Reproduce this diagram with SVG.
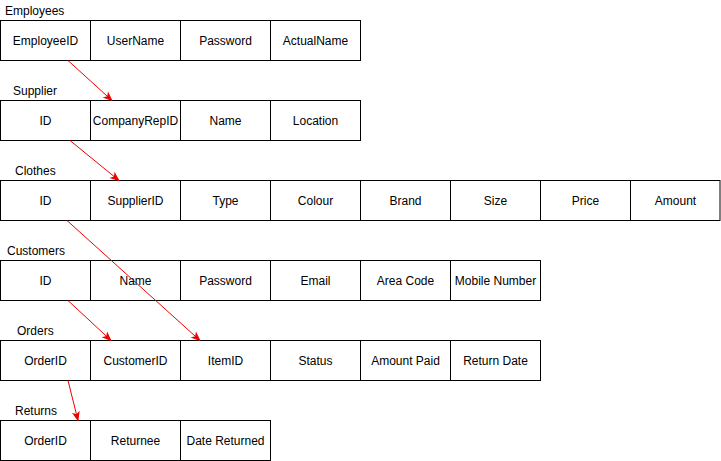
<svg xmlns="http://www.w3.org/2000/svg" width="721" height="461" viewBox="0 0 721 461">
<style>
.c{fill:#fff;stroke:#000;stroke-width:1}
.t{font-family:"Liberation Sans",Arial,sans-serif;font-size:12px;fill:#000;text-anchor:middle;dominant-baseline:central}
.l{font-family:"Liberation Sans",Arial,sans-serif;font-size:12px;fill:#000}
.a{stroke:#e00;stroke-width:1;fill:none;marker-end:url(#ah)}
</style>
<defs>
<marker id="ah" viewBox="0 0 10 10" refX="9" refY="5" markerWidth="10" markerHeight="10" markerUnits="userSpaceOnUse" orient="auto">
<path d="M0,1 L10,5 L0,9 L2.5,5 Z" fill="#e00"/>
</marker>
</defs>
<rect width="721" height="461" fill="#fff"/>
<g id="employees">
<text class="l" x="5" y="15">Employees</text>
<rect class="c" x="0.5" y="20.5" width="90" height="40"/><text class="t" x="45.5" y="40.5">EmployeeID</text>
<rect class="c" x="90.5" y="20.5" width="90" height="40"/><text class="t" x="135.5" y="40.5">UserName</text>
<rect class="c" x="180.5" y="20.5" width="90" height="40"/><text class="t" x="225.5" y="40.5">Password</text>
<rect class="c" x="270.5" y="20.5" width="90" height="40"/><text class="t" x="315.5" y="40.5">ActualName</text>
</g>
<g id="supplier">
<text class="l" x="13" y="95">Supplier</text>
<rect class="c" x="0.5" y="100.5" width="90" height="40"/><text class="t" x="45.5" y="120.5">ID</text>
<rect class="c" x="90.5" y="100.5" width="90" height="40"/><text class="t" x="135.5" y="120.5">CompanyRepID</text>
<rect class="c" x="180.5" y="100.5" width="90" height="40"/><text class="t" x="225.5" y="120.5">Name</text>
<rect class="c" x="270.5" y="100.5" width="90" height="40"/><text class="t" x="315.5" y="120.5">Location</text>
</g>
<g id="clothes">
<text class="l" x="15" y="175">Clothes</text>
<rect class="c" x="0.5" y="180.5" width="90" height="40"/><text class="t" x="45.5" y="200.5">ID</text>
<rect class="c" x="90.5" y="180.5" width="90" height="40"/><text class="t" x="135.5" y="200.5">SupplierID</text>
<rect class="c" x="180.5" y="180.5" width="90" height="40"/><text class="t" x="225.5" y="200.5">Type</text>
<rect class="c" x="270.5" y="180.5" width="90" height="40"/><text class="t" x="315.5" y="200.5">Colour</text>
<rect class="c" x="360.5" y="180.5" width="90" height="40"/><text class="t" x="405.5" y="200.5">Brand</text>
<rect class="c" x="450.5" y="180.5" width="90" height="40"/><text class="t" x="495.5" y="200.5">Size</text>
<rect class="c" x="540.5" y="180.5" width="90" height="40"/><text class="t" x="585.5" y="200.5">Price</text>
<rect class="c" x="630.5" y="180.5" width="89.5" height="40"/><text class="t" x="675.5" y="200.5">Amount</text>
</g>
<g id="customers">
<text class="l" x="7" y="255">Customers</text>
<rect class="c" x="0.5" y="260.5" width="90" height="40"/><text class="t" x="45.5" y="280.5">ID</text>
<rect class="c" x="90.5" y="260.5" width="90" height="40"/><text class="t" x="135.5" y="280.5">Name</text>
<rect class="c" x="180.5" y="260.5" width="90" height="40"/><text class="t" x="225.5" y="280.5">Password</text>
<rect class="c" x="270.5" y="260.5" width="90" height="40"/><text class="t" x="315.5" y="280.5">Email</text>
<rect class="c" x="360.5" y="260.5" width="90" height="40"/><text class="t" x="405.5" y="280.5">Area Code</text>
<rect class="c" x="450.5" y="260.5" width="90" height="40"/><text class="t" x="495.5" y="280.5">Mobile Number</text>
</g>
<g id="orders">
<text class="l" x="17" y="335">Orders</text>
<rect class="c" x="0.5" y="340.5" width="90" height="40"/><text class="t" x="45.5" y="360.5">OrderID</text>
<rect class="c" x="90.5" y="340.5" width="90" height="40"/><text class="t" x="135.5" y="360.5">CustomerID</text>
<rect class="c" x="180.5" y="340.5" width="90" height="40"/><text class="t" x="225.5" y="360.5">ItemID</text>
<rect class="c" x="270.5" y="340.5" width="90" height="40"/><text class="t" x="315.5" y="360.5">Status</text>
<rect class="c" x="360.5" y="340.5" width="90" height="40"/><text class="t" x="405.5" y="360.5">Amount Paid</text>
<rect class="c" x="450.5" y="340.5" width="90" height="40"/><text class="t" x="495.5" y="360.5">Return Date</text>
</g>
<g id="returns">
<text class="l" x="15" y="415">Returns</text>
<rect class="c" x="0.5" y="420.5" width="90" height="40"/><text class="t" x="45.5" y="440.5">OrderID</text>
<rect class="c" x="90.5" y="420.5" width="90" height="40"/><text class="t" x="135.5" y="440.5">Returnee</text>
<rect class="c" x="180.5" y="420.5" width="90" height="40"/><text class="t" x="225.5" y="440.5">Date Returned</text>
</g>
<g id="connectors">
<line class="a" x1="68" y1="60.5" x2="112" y2="100.5"/>
<line class="a" x1="70" y1="140.5" x2="119" y2="180.5"/>
<line class="a" x1="67" y1="220.5" x2="200" y2="340.5"/>
<line class="a" x1="68" y1="300.5" x2="111" y2="340.5"/>
<line class="a" x1="68" y1="380.5" x2="78" y2="420.5"/>
</g>
</svg>
